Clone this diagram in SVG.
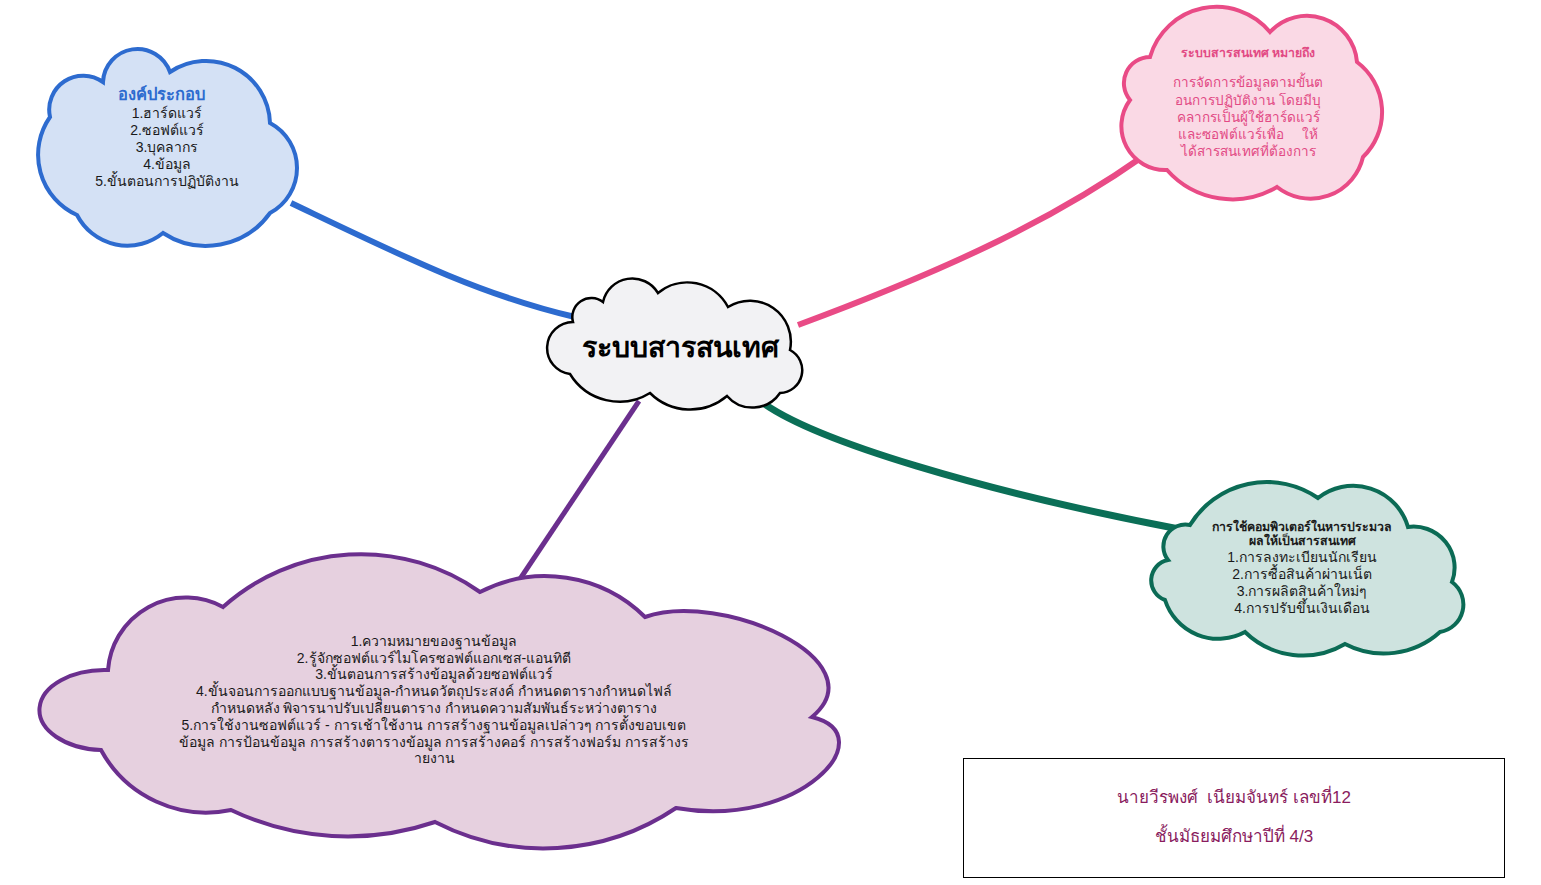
<svg xmlns="http://www.w3.org/2000/svg" width="1541" height="885" viewBox="0 0 1541 885">
<style>
text{font-family:"Liberation Sans","DejaVu Sans","Noto Sans",sans-serif;text-anchor:middle}
.conn{fill:none;stroke-linecap:butt}
.item{font-size:14px;fill:#1a1a1a}
.ttl{font-size:12.3px;font-weight:bold}
</style>
<rect width="1541" height="885" fill="#ffffff"/>
<g id="connectors">
<path class="conn" d="M 291 203 C 400 255 480 295 575 317" stroke="#2d6bcf" stroke-width="6"/>
<path class="conn" d="M 1145 155 C 1060 215 960 265 798 325" stroke="#e94b86" stroke-width="6"/>
<path class="conn" d="M 752 394 C 800 440 1000 495 1184 530" stroke="#0b6f57" stroke-width="7"/>
<path class="conn" d="M 639 401 L 518 582" stroke="#6b2f8e" stroke-width="5"/>
</g>
<g id="node-components">
<path d="M 103 82 A 34.5 34.5 0 0 1 170 72 A 64 64 0 0 1 270 123 A 51 51 0 0 1 270 213 A 78.5 78.5 0 0 1 163 233 A 56.6 56.6 0 0 1 77 215 A 66 66 0 0 1 50 117 A 34 34 0 0 1 103 82 Z" fill="#d4e1f5" stroke="#2d6bcf" stroke-width="4"/>
<text x="161" y="100" style="font-size:16.5px;font-weight:bold;fill:#2d6bcf">องค์ประกอบ</text>
<text class="item" x="167" y="118">1.ฮาร์ดแวร์</text>
<text class="item" x="167" y="135">2.ซอฟต์แวร์</text>
<text class="item" x="167" y="152">3.บุคลากร</text>
<text class="item" x="167" y="169">4.ข้อมูล</text>
<text class="item" x="167" y="186">5.ขั้นตอนการปฏิบัติงาน</text>
</g>
<g id="node-meaning">
<path d="M 1150 57 A 69.3 69.3 0 0 1 1270 32 A 50.3 50.3 0 0 1 1357 62 A 62.5 62.5 0 0 1 1363 157 A 53.9 53.9 0 0 1 1277 187 A 87.4 87.4 0 0 1 1167 170 A 43.9 43.9 0 0 1 1130 100 A 26.2 26.2 0 0 1 1150 57 Z" fill="#fad9e5" stroke="#e94b86" stroke-width="4"/>
<text class="ttl" x="1248" y="57" style="fill:#e24a84">ระบบสารสนเทศ หมายถึง</text>
<g style="font-size:13.5px;fill:#e24a84">
<text x="1248" y="87">การจัดการข้อมูลตามขั้นต</text>
<text x="1248" y="105">อนการปฏิบัติงาน โดยมีบุ</text>
<text x="1248" y="122">คลากรเป็นผู้ใช้ฮาร์ดแวร์</text>
<text x="1248" y="139" xml:space="preserve">และซอฟต์แวร์เพื่อ     ให้</text>
<text x="1248" y="156">ได้สารสนเทศที่ต้องการ</text>
</g>
</g>
<g id="node-center">
<path d="M 573 322 A 19 19 0 0 1 603 302 A 30 30 0 0 1 658 293 A 46 46 0 0 1 728 307 A 41 41 0 0 1 790 350 A 22.8 22.8 0 0 1 780 393 A 33.5 33.5 0 0 1 727 396 A 57 57 0 0 1 650 393 A 58 58 0 0 1 570 374 A 26.1 26.1 0 0 1 573 322 Z" fill="#f2f2f4" stroke="#000000" stroke-width="2.5"/>
<text x="680" y="357" style="font-size:28.5px;font-weight:bold;fill:#000">ระบบสารสนเทศ</text>
</g>
<g id="node-usage">
<path d="M 1190 525 A 90 90 0 0 1 1318 498 A 57 57 0 0 1 1408 527 A 41 41 0 0 1 1452 582 A 27.9 27.9 0 0 1 1440 632 A 84 84 0 0 1 1345 644 A 83 83 0 0 1 1245 632 A 56 56 0 0 1 1165 600 A 20.8 20.8 0 0 1 1168 560 A 22 22 0 0 1 1190 525 Z" fill="#cee3df" stroke="#0b6b55" stroke-width="4"/>
<text class="ttl" x="1302" y="531" style="fill:#1a1a1a">การใช้คอมพิวเตอร์ในหารประมวล</text>
<text class="ttl" x="1302" y="545" style="fill:#1a1a1a">ผลให้เป็นสารสนเทศ</text>
<text class="item" x="1302" y="562">1.การลงทะเบียนนักเรียน</text>
<text class="item" x="1302" y="579">2.การซื้อสินค้าผ่านเน็ต</text>
<text class="item" x="1302" y="596">3.การผลิตสินค้าใหม่ๆ</text>
<text class="item" x="1302" y="613">4.การปรับขึ้นเงินเดือน</text>
</g>
<g id="node-database">
<path d="M 108 670 A 78 78 0 0 1 223 607 A 206.5 206.5 0 0 1 480 592 A 142.5 142.5 0 0 1 645 617 C 720 590 880 660 812 717 C 885 735 800 830 676 808 A 237 237 0 0 1 435 822 A 271 271 0 0 1 231 810 A 120 120 0 0 1 101 750 A 65 40 0 0 1 108 670 Z" fill="#e6d0df" stroke="#6b2f8e" stroke-width="4"/>
<g class="item">
<text x="434" y="646">1.ความหมายของฐานข้อมูล</text>
<text x="434" y="663">2.รู้จักซอฟต์แวร์ไมโครซอฟต์แอกเซส-แอนทิตี</text>
<text x="434" y="679">3.ขั้นตอนการสร้างข้อมูลด้วยซอฟต์แวร์</text>
<text x="434" y="696">4.ขั้นจอนการออกแบบฐานข้อมูล-กำหนดวัตถุประสงค์ กำหนดตารางกำหนดไฟล์</text>
<text x="434" y="713">กำหนดหลัง พิจารนาปรับเปลี่ยนตาราง กำหนดความสัมพันธ์ระหว่างตาราง</text>
<text x="434" y="730">5.การใช้งานซอฟต์แวร์ - การเช้าใช้งาน การสร้างฐานข้อมูลเปล่าวๆ การตั้งขอบเขต</text>
<text x="434" y="747">ข้อมูล การป้อนข้อมูล การสร้างตารางข้อมูล การสร้างคอร์ การสร้างฟอร์ม การสร้างร</text>
<text x="434" y="763">ายงาน</text>
</g>
</g>
<g id="node-student">
<rect x="963.5" y="758.5" width="541" height="119" fill="#ffffff" stroke="#000000" stroke-width="1"/>
<text x="1234" y="803" xml:space="preserve" style="font-size:17px;fill:#8a1c5e">นายวีรพงศ์  เนียมจันทร์ เลขที่12</text>
<text x="1234" y="842" style="font-size:17px;fill:#8a1c5e">ชั้นมัธยมศึกษาปีที่ 4/3</text>
</g>
</svg>
